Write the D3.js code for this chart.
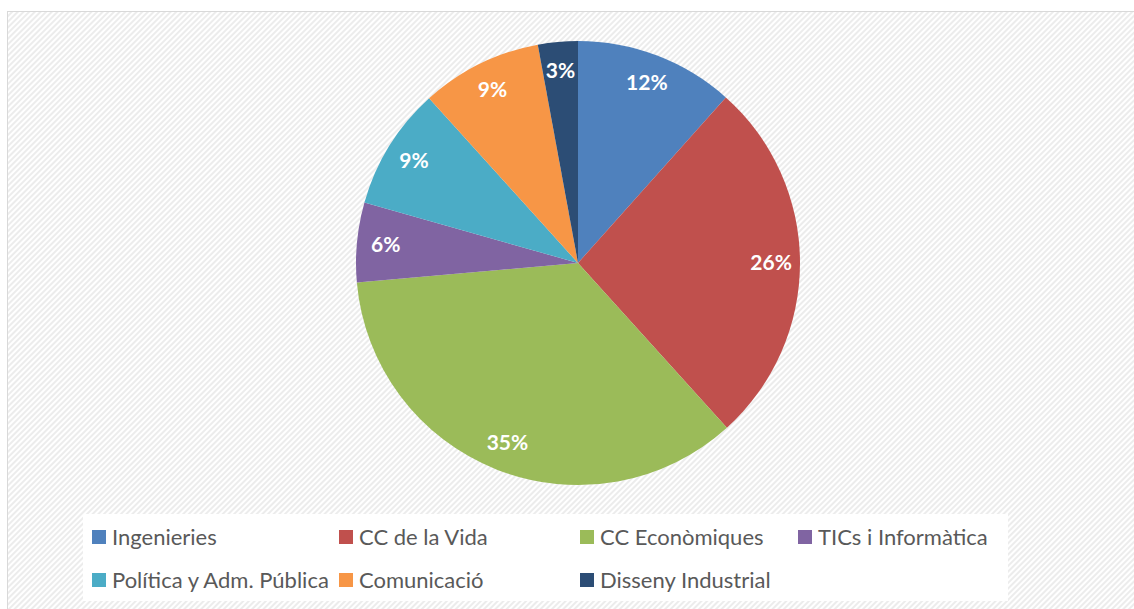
<!DOCTYPE html>
<html>
<head>
<meta charset="utf-8">
<script src="https://d3js.org/d3.v7.min.js"></script>
<style>
  body { margin: 0; background: #fff; }
  svg { display: block; }
</style>
</head>
<body>
<svg id="chart" width="1134" height="609"></svg>
<script>
// data
var categories = ["Ingenieries", "CC de la Vida", "CC Econòmiques", "TICs i Informàtica",
                  "Política y Adm. Pública", "Comunicació", "Disseny Industrial"];
var shares = [11.6, 26.7, 35.3, 5.8, 8.9, 8.8, 2.9];
var labels = ["12%", "26%", "35%", "6%", "9%", "9%", "3%"];
var colours = ["#4f81bd", "#c0504d", "#9bbb59", "#8064a2", "#4bacc6", "#f79646", "#2c4d75"];

var svg = d3.select("#chart");

// striped background
var defs = svg.append("defs");
var pat = defs.append("pattern")
  .attr("id", "stripes")
  .attr("width", 4).attr("height", 4)
  .attr("patternUnits", "userSpaceOnUse")
  .attr("patternTransform", "rotate(45)");
pat.append("rect").attr("width", 4).attr("height", 4).attr("fill", "#ffffff");
pat.append("rect").attr("width", 2).attr("height", 4).attr("fill", "#ececec");

svg.append("rect")
  .attr("x", 7.5).attr("y", 11.5)
  .attr("width", 1140).attr("height", 610)
  .attr("fill", "url(#stripes)")
  .attr("stroke", "#d9d9d9")
  .attr("stroke-width", 1);

// pie
var cx = 578, cy = 263, radius = 222;

var pie = d3.pie().sort(null).value(function(d) { return d; });
var arc = d3.arc().innerRadius(0).outerRadius(radius);
var labelArc = d3.arc().innerRadius(radius * 0.87).outerRadius(radius * 0.87);

var g = svg.append("g").attr("transform", "translate(" + cx + "," + cy + ")");
var arcs = pie(shares);

g.selectAll("path")
  .data(arcs)
  .enter().append("path")
  .attr("d", arc)
  .attr("fill", function(d, i) { return colours[i]; });

g.selectAll("text")
  .data(arcs)
  .enter().append("text")
  .attr("transform", function(d) { return "translate(" + labelArc.centroid(d) + ")"; })
  .attr("text-anchor", "middle")
  .attr("dy", "0.35em")
  .style("font-family", "Lato, 'Open Sans', sans-serif")
  .style("font-weight", "bold")
  .style("font-size", "21px")
  .style("fill", "#ffffff")
  .text(function(d, i) { return labels[i]; });

// legend
svg.append("rect")
  .attr("x", 83).attr("y", 514)
  .attr("width", 925).attr("height", 87)
  .attr("fill", "#ffffff");

var colX = [92, 339, 580, 798];
var rowY = [537, 580];

var legend = svg.append("g").selectAll("g")
  .data(categories)
  .enter().append("g")
  .attr("transform", function(d, i) {
    return "translate(" + colX[i % 4] + "," + rowY[Math.floor(i / 4)] + ")";
  });

legend.append("rect")
  .attr("x", 0).attr("y", -7)
  .attr("width", 14).attr("height", 14)
  .attr("fill", function(d, i) { return colours[i]; });

legend.append("text")
  .attr("x", 20)
  .attr("dy", "0.35em")
  .style("font-family", "Lato, 'Open Sans', sans-serif")
  .style("font-size", "22px")
  .style("fill", "#595959")
  .text(function(d) { return d; });
</script>
</body>
</html>
